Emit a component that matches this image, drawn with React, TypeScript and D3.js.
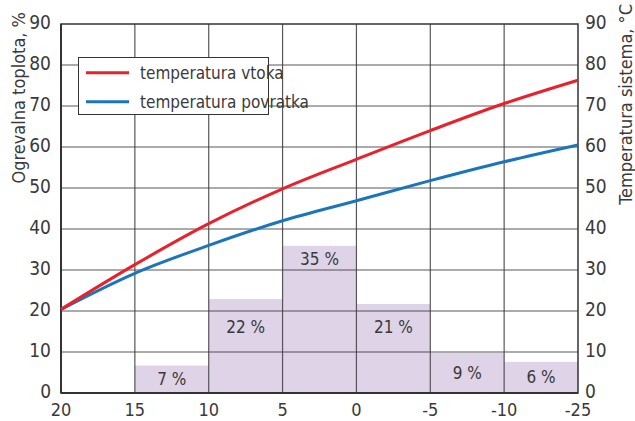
import React from "react";
import * as d3 from "d3";

const xLabels = ["20", "15", "10", "5", "0", "-5", "-10", "-25"];
const yTicks = [0, 10, 20, 30, 40, 50, 60, 70, 80, 90];
const supplyTemp = [20.4, 31.3, 41.3, 49.8, 57.0, 64.0, 70.6, 76.3];
const returnTemp = [20.4, 29.2, 36.0, 42.0, 46.9, 51.8, 56.4, 60.5];
const barHeights = [6.7, 22.9, 35.9, 21.7, 9.8, 7.6];
const barLabels = ["7 %", "22 %", "35 %", "21 %", "9 %", "6 %"];
const legendItems = [
  { label: "temperatura vtoka", color: "#e8212b" },
  { label: "temperatura povratka", color: "#1b75bc" },
];

const W = 635;
const H = 421;
const L = 61, R = 578, T = 24, B = 393;
const FONT = "'Liberation Sans Narrow', 'DejaVu Sans Condensed', 'Roboto Condensed', Roboto, sans-serif";
const TXT = "#3a3a3a";

export default function App() {
  const x = d3.scalePoint<string>().domain(xLabels).range([L, R]);
  const y = d3.scaleLinear().domain([0, 90]).range([B, T]);
  const line = d3
    .line<number>()
    .x((_, i) => x(xLabels[i]) as number)
    .y((d) => y(d))
    .curve(d3.curveMonotoneX);

  const bars = barHeights.map((v, i) => {
    const x0 = x(xLabels[i + 1]) as number;
    const x1 = x(xLabels[i + 2]) as number;
    const top = y(v);
    let ly: number;
    if (v >= 30) ly = top + 13;
    else if (v >= 15) ly = y(16);
    else ly = (top + B) / 2;
    return { x0, x1, top, ly, label: barLabels[i] };
  });

  return (
    <svg
      width={W}
      height={H}
      style={{ position: "absolute", left: 0, top: 0, display: "block", background: "#fff" }}
      fontFamily={FONT}
    >
      {bars.map((b, i) => (
        <rect key={i} x={b.x0} y={b.top} width={b.x1 - b.x0} height={B - b.top} fill="#ded3e7" />
      ))}
      {yTicks.slice(1, -1).map((t) => (
        <line key={t} x1={L} x2={R} y1={y(t)} y2={y(t)} stroke="#3c3c3c" strokeWidth={1.2} opacity={0.85} />
      ))}
      {xLabels.slice(1, -1).map((l) => (
        <line key={l} x1={x(l)} x2={x(l)} y1={T} y2={B} stroke="#3c3c3c" strokeWidth={1.2} opacity={0.85} />
      ))}
      <rect x={L} y={T} width={R - L} height={B - T} fill="none" stroke="#333" strokeWidth={1.5} />
      <line x1={L} x2={R} y1={B} y2={B} stroke="#333" strokeWidth={2} />
      <line x1={L} x2={L} y1={T} y2={B} stroke="#333" strokeWidth={2} />

      {bars.map((b, i) => (
        <text
          key={i}
          x={(b.x0 + b.x1) / 2}
          y={b.ly}
          textAnchor="middle"
          dominantBaseline="central"
          fontSize={17}
          fill={TXT}
        >
          {b.label}
        </text>
      ))}

      <path d={line(returnTemp) || ""} fill="none" stroke={legendItems[1].color} strokeWidth={3} />
      <path d={line(supplyTemp) || ""} fill="none" stroke={legendItems[0].color} strokeWidth={3} />

      <rect x={78.5} y={57.5} width={190} height={57} fill="#fff" stroke="#333" strokeWidth={1} />
      {legendItems.map((it, i) => (
        <g key={it.label}>
          <line x1={86} x2={129} y1={72.7 + i * 29} y2={72.7 + i * 29} stroke={it.color} strokeWidth={3} />
          <text x={140} y={72.7 + i * 29} dominantBaseline="central" fontSize={17} fill={TXT}>
            {it.label}
          </text>
        </g>
      ))}

      {yTicks.map((t) => (
        <text key={"l" + t} x={51} y={y(t) - 2} textAnchor="end" dominantBaseline="central" fontSize={19} fill={TXT}>
          {t}
        </text>
      ))}
      {yTicks.map((t) => (
        <text key={"r" + t} x={585} y={y(t) - 2} textAnchor="start" dominantBaseline="central" fontSize={19} fill={TXT}>
          {t}
        </text>
      ))}
      {xLabels.map((l) => (
        <text key={"x" + l} x={x(l)} y={409} textAnchor="middle" dominantBaseline="central" fontSize={18} fill={TXT}>
          {l}
        </text>
      ))}

      <text
        transform="translate(18,12) rotate(-90)"
        textAnchor="end"
        dominantBaseline="central"
        fontSize={18}
        fill={TXT}
      >
        Ogrevalna toplota, %
      </text>
      <text
        transform="translate(625,4) rotate(-90)"
        textAnchor="end"
        dominantBaseline="central"
        fontSize={18}
        fill={TXT}
      >
        Temperatura sistema, °C
      </text>
    </svg>
  );
}
